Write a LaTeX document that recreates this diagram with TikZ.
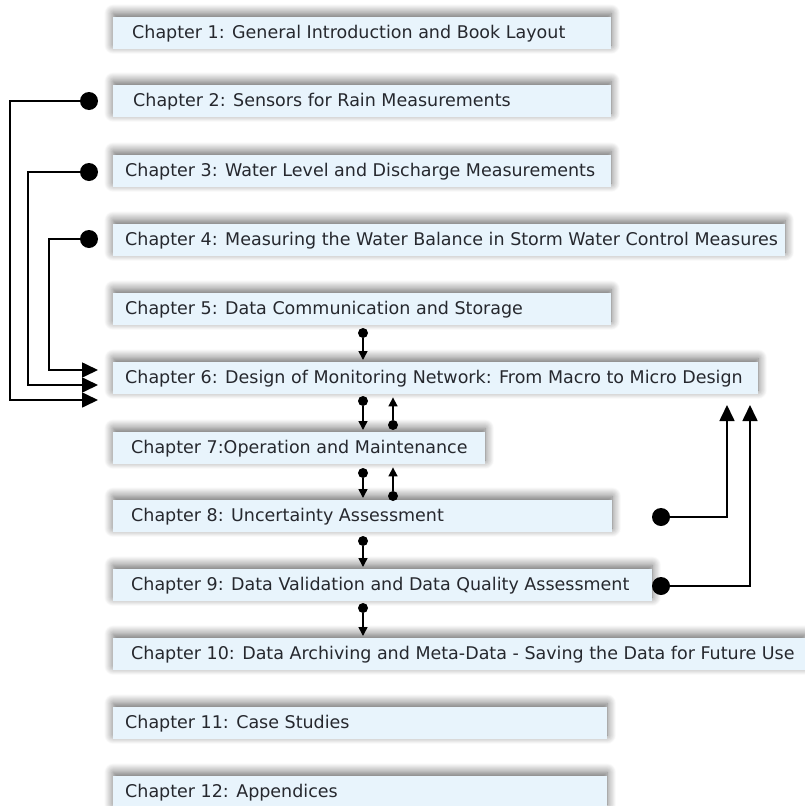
\documentclass[tikz,border=0pt]{standalone}
\usepackage{fontspec}
\setmainfont{DejaVu Sans}
\usetikzlibrary{arrows.meta,shadows.blur}
\definecolor{boxblue}{HTML}{E8F4FC}
\definecolor{inkgray}{HTML}{26282E}
\tikzset{
  chapbox/.style={fill=boxblue, anchor=north west, minimum height=32pt, inner sep=0pt,
    blur shadow={shadow xshift=0pt, shadow yshift=4pt, shadow blur radius=9pt,
      shadow blur steps=12, shadow opacity=60}},
  chaptext/.style={anchor=west, inner sep=0pt, text=inkgray, font=\fontsize{17.5}{20}\selectfont},
  bigdot/.style={circle, fill=black, minimum size=18pt, inner sep=0pt},
  smalldot/.style={circle, fill=black, minimum size=10pt, inner sep=0pt},
  bigarrow/.style={line width=1.7pt, -{Triangle[length=16pt, width=15pt]}},
  smallarrow/.style={line width=1.6pt, -{Triangle[length=9pt, width=9pt]}}
}
\begin{document}
\begin{tikzpicture}[x=1pt, y=-1pt]

  \useasboundingbox (0,0) rectangle (805,806);

  % chapter boxes: number / top / right edge / text offset / title
  \foreach \n/\t/\r/\o/\txt in {
      1/17/611/19/{Chapter 1: General Introduction and Book Layout},
      2/85/611/20/{Chapter 2: Sensors for Rain Measurements},
      3/155/611/12/{Chapter 3: Water Level and Discharge Measurements},
      4/224/785/12/{Chapter 4: Measuring the Water Balance in Storm Water Control Measures},
      5/293/611/12/{Chapter 5: Data Communication and Storage},
      6/362/758/12/{Chapter 6: Design of Monitoring Network: From Macro to Micro Design},
      7/432/485/18/{Chapter 7:Operation and Maintenance},
      8/500/612/18/{Chapter 8: Uncertainty Assessment},
      9/569/652/18/{Chapter 9: Data Validation and Data Quality Assessment},
      10/638/805/18/{Chapter 10: Data Archiving and Meta-Data - Saving the Data for Future Use},
      11/707/607/12/{Chapter 11: Case Studies},
      12/776/607/12/{Chapter 12: Appendices}} {
    \pgfmathsetmacro\bw{\r-113}
    \node[chapbox, minimum width=\bw pt] (c\n) at (113,\t) {};
    \node[chaptext] (t\n) at ([xshift=\o pt]c\n.west) {\txt};
  }

  % dots
  \node[bigdot] (d2) at (89,101) {};
  \node[bigdot] (d3) at (89,172) {};
  \node[bigdot] (d4) at (89,239) {};
  \node[bigdot] (d8) at (661,517) {};
  \node[bigdot] (d9) at (661,586) {};

  \node[smalldot] (s5) at (363,333) {};
  \node[smalldot] (s6) at (363,401) {};
  \node[smalldot] (u7) at (393,425) {};
  \node[smalldot] (s7) at (363,473) {};
  \node[smalldot] (u8) at (393,496) {};
  \node[smalldot] (s8) at (363,541) {};
  \node[smalldot] (s9) at (363,608) {};

  % corners and free ends
  \coordinate (k2) at (10,400);
  \coordinate (k3) at (28,385);
  \coordinate (k4) at (49,370);
  \coordinate (e2) at (98,400);
  \coordinate (e3) at (98,385);
  \coordinate (e4) at (98,370);
  \coordinate (e8) at (727,405);
  \coordinate (e9) at (750,405);

  % feeds into chapter 6
  \draw[bigarrow] (d2) -| (k2) -- (e2);
  \draw[bigarrow] (d3) -| (k3) -- (e3);
  \draw[bigarrow] (d4) -| (k4) -- (e4);
  \draw[bigarrow] (d8) -| (e8);
  \draw[bigarrow] (d9) -| (e9);

  % chain down the middle
  \draw[smallarrow, shorten >=2pt] (s5) -- (s5 |- c6.north);
  \draw[smallarrow, shorten >=2pt] (s6) -- (s6 |- c7.north);
  \draw[smallarrow, shorten >=3pt] (u7) -- (u7 |- c6.south);
  \draw[smallarrow, shorten >=2pt] (s7) -- (s7 |- c8.north);
  \draw[smallarrow, shorten >=3pt] (u8) -- (u8 |- c7.south);
  \draw[smallarrow, shorten >=2pt] (s8) -- (s8 |- c9.north);
  \draw[smallarrow, shorten >=2pt] (s9) -- (s9 |- c10.north);
\end{tikzpicture}
\end{document}
